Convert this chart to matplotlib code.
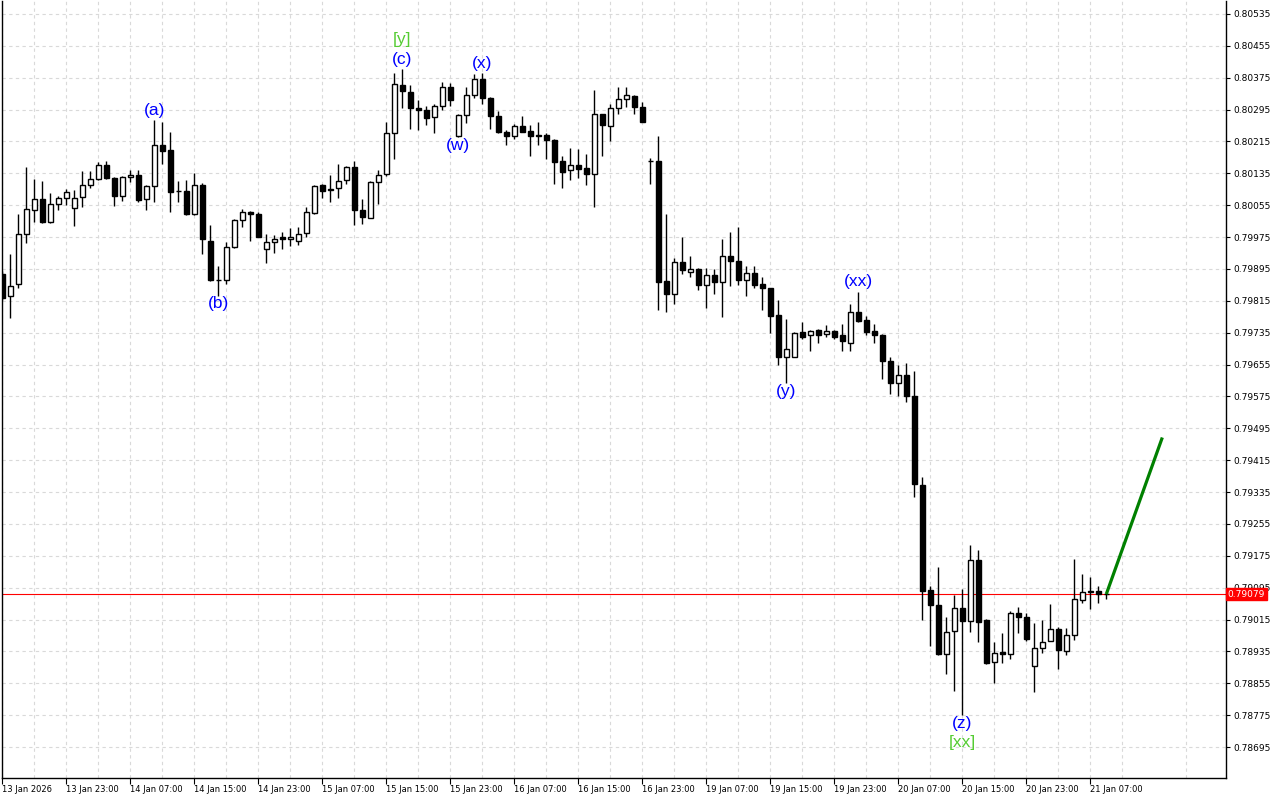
import numpy as np
import matplotlib
matplotlib.use("Agg")
import matplotlib.pyplot as plt
import matplotlib.transforms as mtransforms

# Données (bougies H1)
opens = [0.79883, 0.79826, 0.79858, 0.79984, 0.80044, 0.80071, 0.80014, 0.80059, 0.80074, 0.80049,
         0.80076, 0.80106, 0.80121, 0.80156, 0.80124, 0.80079, 0.80126, 0.80131, 0.80071, 0.80104,
         0.80207, 0.80194, 0.80091, 0.80091, 0.80034, 0.80106, 0.79966, 0.79868, 0.79868, 0.79951,
         0.80019, 0.80038, 0.80034, 0.79946, 0.79963, 0.79974, 0.79969, 0.79966, 0.79986, 0.80036,
         0.80106, 0.80096, 0.80099, 0.80119, 0.80152, 0.80044, 0.80024, 0.80114, 0.80134, 0.80237,
         0.80357, 0.80340, 0.80299, 0.80294, 0.80277, 0.80304, 0.80352, 0.80229, 0.80282, 0.80332,
         0.80372, 0.80324, 0.80279, 0.80239, 0.80229, 0.80254, 0.80242, 0.80232, 0.80232, 0.80219,
         0.80166, 0.80144, 0.80156, 0.80149, 0.80134, 0.80284, 0.80254, 0.80299, 0.80322, 0.80329,
         0.80302, 0.80166, 0.80166, 0.79866, 0.79831, 0.79913, 0.79888, 0.79896, 0.79856, 0.79881,
         0.79863, 0.79928, 0.79916, 0.79868, 0.79886, 0.79858, 0.79846, 0.79780, 0.79673, 0.79675,
         0.79738, 0.79730, 0.79743, 0.79733, 0.79740, 0.79728, 0.79710, 0.79788, 0.79768, 0.79740,
         0.79730, 0.79663, 0.79608, 0.79628, 0.79577, 0.79352, 0.79089, 0.79051, 0.78928, 0.78986,
         0.79044, 0.79011, 0.79164, 0.79013, 0.78908, 0.78933, 0.78928, 0.79031, 0.79021, 0.78898,
         0.78943, 0.78961, 0.78991, 0.78936, 0.78976, 0.79064, 0.79084, 0.79086, 0.79079]
highs = [0.79891, 0.79933, 0.80034, 0.80152, 0.80121, 0.80116, 0.80086, 0.80079, 0.80096, 0.80094,
         0.80141, 0.80141, 0.80164, 0.80166, 0.80126, 0.80129, 0.80144, 0.80144, 0.80106, 0.80269,
         0.80264, 0.80239, 0.80116, 0.80119, 0.80136, 0.80111, 0.80006, 0.79903, 0.79963, 0.80020,
         0.80046, 0.80041, 0.80039, 0.79984, 0.79979, 0.79989, 0.79999, 0.80001, 0.80051, 0.80106,
         0.80109, 0.80131, 0.80159, 0.80154, 0.80166, 0.80071, 0.80116, 0.80144, 0.80264, 0.80387,
         0.80397, 0.80357, 0.80319, 0.80304, 0.80309, 0.80365, 0.80362, 0.80284, 0.80352, 0.80385,
         0.80387, 0.80326, 0.80292, 0.80244, 0.80259, 0.80279, 0.80257, 0.80264, 0.80237, 0.80222,
         0.80179, 0.80199, 0.80197, 0.80184, 0.80344, 0.80285, 0.80309, 0.80352, 0.80352, 0.80332,
         0.80314, 0.80174, 0.80229, 0.80034, 0.79923, 0.79974, 0.79928, 0.79898, 0.79898, 0.79896,
         0.79969, 0.79989, 0.80001, 0.79903, 0.79903, 0.79876, 0.79847, 0.79818, 0.79770, 0.79737,
         0.79763, 0.79741, 0.79745, 0.79755, 0.79743, 0.79758, 0.79806, 0.79838, 0.79778, 0.79758,
         0.79733, 0.79673, 0.79653, 0.79660, 0.79638, 0.79374, 0.79099, 0.79146, 0.79021, 0.79076,
         0.79091, 0.79201, 0.79189, 0.79016, 0.78958, 0.78981, 0.79036, 0.79046, 0.79031, 0.79006,
         0.79013, 0.79054, 0.78996, 0.78993, 0.79166, 0.79129, 0.79121, 0.79099, 0.79081]
lows = [0.79816, 0.79773, 0.79848, 0.79961, 0.80014, 0.80011, 0.80011, 0.80044, 0.80056, 0.80004,
        0.80051, 0.80099, 0.80119, 0.80121, 0.80054, 0.80066, 0.80114, 0.80064, 0.80044, 0.80064,
        0.80159, 0.80039, 0.80064, 0.80031, 0.80031, 0.79933, 0.79866, 0.79828, 0.79858, 0.79948,
        0.80001, 0.79966, 0.79974, 0.79911, 0.79936, 0.79946, 0.79953, 0.79956, 0.79976, 0.80034,
        0.80074, 0.80064, 0.80074, 0.80109, 0.80006, 0.80009, 0.80022, 0.80059, 0.80129, 0.80172,
        0.80299, 0.80247, 0.80244, 0.80257, 0.80237, 0.80294, 0.80304, 0.80227, 0.80262, 0.80324,
        0.80309, 0.80247, 0.80237, 0.80207, 0.80222, 0.80238, 0.80179, 0.80207, 0.80172, 0.80109,
        0.80099, 0.80119, 0.80124, 0.80106, 0.80051, 0.80179, 0.80217, 0.80284, 0.80302, 0.80284,
        0.80263, 0.80109, 0.79793, 0.79788, 0.79808, 0.79883, 0.79876, 0.79843, 0.79798, 0.79833,
        0.79775, 0.79853, 0.79856, 0.79826, 0.79848, 0.79791, 0.79735, 0.79653, 0.79608, 0.79673,
        0.79718, 0.79688, 0.79710, 0.79723, 0.79720, 0.79690, 0.79688, 0.79762, 0.79730, 0.79708,
        0.79620, 0.79580, 0.79575, 0.79562, 0.79322, 0.79013, 0.78948, 0.78926, 0.78878, 0.78835,
        0.78775, 0.78983, 0.78958, 0.78903, 0.78855, 0.78906, 0.78916, 0.78981, 0.78961, 0.78833,
        0.78931, 0.78960, 0.78891, 0.78926, 0.78963, 0.79056, 0.79041, 0.79056, 0.79066]
closes = [0.79823, 0.79853, 0.79984, 0.80046, 0.80071, 0.80014, 0.80059, 0.80074, 0.80089, 0.80074,
          0.80106, 0.80121, 0.80156, 0.80124, 0.80079, 0.80126, 0.80131, 0.80069, 0.80104, 0.80207,
          0.80192, 0.80089, 0.80090, 0.80034, 0.80106, 0.79969, 0.79868, 0.79867, 0.79951, 0.80019,
          0.80039, 0.80033, 0.79976, 0.79963, 0.79971, 0.79969, 0.79976, 0.79984, 0.80039, 0.80104,
          0.80091, 0.80093, 0.80116, 0.80152, 0.80044, 0.80026, 0.80114, 0.80131, 0.80237, 0.80360,
          0.80342, 0.80299, 0.80294, 0.80274, 0.80304, 0.80352, 0.80319, 0.80282, 0.80332, 0.80372,
          0.80324, 0.80279, 0.80239, 0.80229, 0.80254, 0.80239, 0.80229, 0.80228, 0.80219, 0.80164,
          0.80139, 0.80156, 0.80146, 0.80134, 0.80284, 0.80257, 0.80299, 0.80322, 0.80332, 0.80302,
          0.80264, 0.80165, 0.79863, 0.79831, 0.79913, 0.79893, 0.79896, 0.79856, 0.79881, 0.79863,
          0.79928, 0.79916, 0.79868, 0.79886, 0.79856, 0.79846, 0.79778, 0.79673, 0.79695, 0.79735,
          0.79725, 0.79740, 0.79730, 0.79740, 0.79723, 0.79715, 0.79788, 0.79765, 0.79738, 0.79728,
          0.79663, 0.79608, 0.79628, 0.79575, 0.79354, 0.79086, 0.79051, 0.78928, 0.78983, 0.79044,
          0.79011, 0.79164, 0.79008, 0.78906, 0.78931, 0.78928, 0.79031, 0.79021, 0.78966, 0.78943,
          0.78958, 0.78991, 0.78938, 0.78976, 0.79066, 0.79084, 0.79086, 0.79079, 0.79079]

bid = 0.79079

# Étiquettes de l'axe du temps (une toutes les 8 bougies)
time_labels = ['13 Jan 2026', '13 Jan 23:00', '14 Jan 07:00', '14 Jan 15:00', '14 Jan 23:00',
               '15 Jan 07:00', '15 Jan 15:00', '15 Jan 23:00', '16 Jan 07:00', '16 Jan 15:00',
               '16 Jan 23:00', '19 Jan 07:00', '19 Jan 15:00', '19 Jan 23:00', '20 Jan 07:00',
               '20 Jan 15:00', '20 Jan 23:00', '21 Jan 07:00']

# Axe des prix
price_ticks = ['0.78695', '0.78775', '0.78855', '0.78935', '0.79015', '0.79095', '0.79175',
               '0.79255', '0.79335', '0.79415', '0.79495', '0.79575', '0.79655', '0.79735',
               '0.79815', '0.79895', '0.79975', '0.80055', '0.80135', '0.80215', '0.80295',
               '0.80375', '0.80455', '0.80535']

# Marquage des vagues : texte, bougie, côté (haut / bas), couleur
wave_text = ['(a)', '(b)', '(c)', '[y]', '(x)', '(w)', '(xx)', '(y)', '(z)', '[xx]']
wave_bar = [19, 27, 50, 50, 60, 57, 107, 98, 120, 120]
wave_side = ['top', 'bottom', 'top', 'top2', 'top', 'bottom', 'top', 'bottom', 'bottom', 'bottom2']
wave_color = ['#0000ff', '#0000ff', '#0000ff', '#55cc33', '#0000ff', '#0000ff', '#0000ff',
              '#0000ff', '#0000ff', '#55cc33']

# Projection (ligne verte)
proj_bars = [138, 145]
proj_prices = [0.79079, 0.79472]

o = np.array(opens)
h = np.array(highs)
l = np.array(lows)
c = np.array(closes)
x = np.arange(len(o))

fig = plt.figure(figsize=(12.8, 8), dpi=100)
ax = fig.add_axes([2 / 1280, 22 / 800, 1224 / 1280, 777 / 800])
ax.set_facecolor('white')

# Grille
ax.set_xticks(np.arange(0, 140, 8))
ax.set_xticks(np.arange(4, 153, 8), minor=True)
ax.set_yticks([float(t) for t in price_ticks])
ax.grid(True, which='both', color='#d9d9d9', linestyle=(0, (3, 3)), linewidth=0.8, zorder=0)

# Mèches
ax.vlines(x, l, h, color='black', linewidth=1, zorder=2)

# Corps
bull = c >= o
body_low = np.minimum(o, c)
body_h = np.maximum(np.abs(c - o), 0.000012)
ax.bar(x[bull], body_h[bull], bottom=body_low[bull], width=0.55,
       color='white', edgecolor='black', linewidth=1, zorder=3)
ax.bar(x[~bull], body_h[~bull], bottom=body_low[~bull], width=0.55,
       color='black', edgecolor='black', linewidth=1, zorder=3)

# Ligne du prix courant
ax.axhline(bid, color='#ff0000', linewidth=0.8, zorder=1)

# Projection
ax.plot(proj_bars, proj_prices, color='#008000', linewidth=2.3, zorder=4,
        solid_capstyle='butt')

# Étiquettes des vagues
offsets = {'top': 7, 'top2': 21, 'bottom': -6, 'bottom2': -20}
for txt, b, side, col in zip(wave_text, wave_bar, wave_side, wave_color):
    yref = h[b] if side.startswith('top') else l[b]
    ax.annotate(txt, (b, yref), xytext=(0, offsets[side]), textcoords='offset points',
                ha='center', va='center', color=col, fontsize=12.5,
                family='Liberation Sans', zorder=5)

ax.set_xlim(-0.04, 152.96)
ax.set_ylim(0.786173, 0.805676)

# Axes style MetaTrader
ax.yaxis.tick_right()
ax.set_yticklabels(price_ticks)
ax.tick_params(axis='y', which='major', direction='out', length=3, width=0.8,
               labelsize=6.5, pad=2, colors='black')
ax.set_xticklabels(time_labels)
for lab in ax.get_xticklabels():
    lab.set_ha('left')
ax.tick_params(axis='x', which='major', direction='out', length=4, width=0.8,
               labelsize=6, pad=1)
ax.tick_params(axis='x', which='minor', length=0)
for s in ['left', 'right', 'bottom', 'top']:
    ax.spines[s].set_color('black')
    ax.spines[s].set_linewidth(1)
ax.spines['top'].set_visible(False)

# Étiquette du prix courant sur l'axe
trans = mtransforms.blended_transform_factory(ax.transAxes, ax.transData)
ax.text(1.0015, bid, '0.79079', transform=trans, ha='left', va='center',
        fontsize=6.5, color='white',
        bbox=dict(boxstyle='square,pad=0.15', facecolor='#ff0000', edgecolor='#ff0000'),
        zorder=6, clip_on=False)

fig.savefig('out.png', dpi=100, facecolor='white')
